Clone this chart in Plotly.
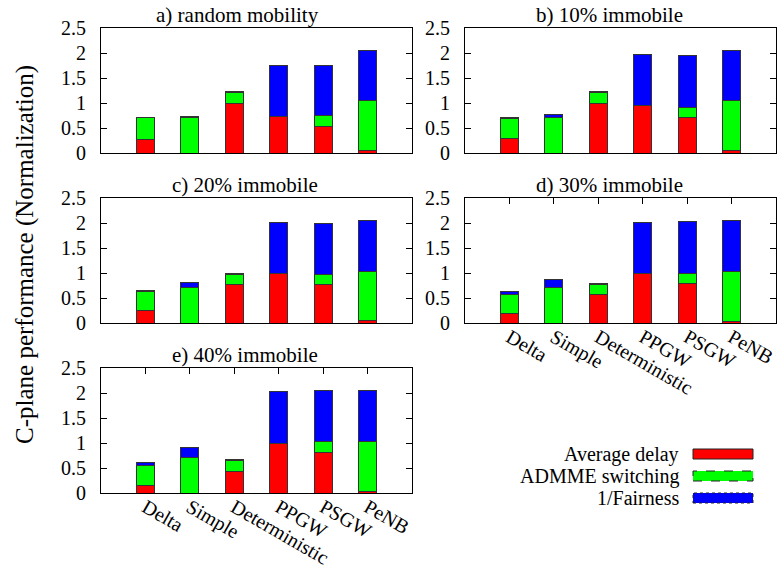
import plotly.graph_objects as go

# Scheme names (x categories)
schemes = ["Delta", "Simple", "Deterministic", "PPGW", "PSGW", "PeNB"]

# Panel titles
panel_titles = ["a) random mobility", "b) 10% immobile", "c) 20% immobile",
                "d) 30% immobile", "e) 40% immobile"]

# Stacked components per panel (normalized)
avg_delay_a = [0.28, 0.00, 1.00, 0.73, 0.53, 0.05]
switching_a = [0.44, 0.72, 0.21, 0.00, 0.22, 1.00]
fairness_a = [0.00, 0.01, 0.02, 1.02, 1.01, 1.01]

avg_delay_b = [0.30, 0.00, 1.00, 0.95, 0.71, 0.05]
switching_b = [0.40, 0.71, 0.21, 0.00, 0.21, 1.00]
fairness_b = [0.02, 0.06, 0.02, 1.02, 1.03, 1.01]

avg_delay_c = [0.25, 0.00, 0.78, 1.00, 0.77, 0.05]
switching_c = [0.39, 0.71, 0.20, 0.00, 0.20, 0.99]
fairness_c = [0.01, 0.10, 0.02, 1.01, 1.02, 1.02]

avg_delay_d = [0.19, 0.00, 0.57, 1.00, 0.79, 0.03]
switching_d = [0.39, 0.71, 0.20, 0.00, 0.21, 1.00]
fairness_d = [0.05, 0.16, 0.02, 1.01, 1.03, 1.02]

avg_delay_e = [0.16, 0.00, 0.44, 1.00, 0.81, 0.03]
switching_e = [0.39, 0.71, 0.21, 0.00, 0.22, 1.00]
fairness_e = [0.06, 0.20, 0.02, 1.03, 1.02, 1.02]

series_names = ["Average delay", "ADMME switching", "1/Fairness"]
y_ticks = [0, 0.5, 1, 1.5, 2, 2.5]
y_tick_text = ["0", "0.5", "1", "1.5", "2", "2.5"]

panels = [
    (avg_delay_a, switching_a, fairness_a),
    (avg_delay_b, switching_b, fairness_b),
    (avg_delay_c, switching_c, fairness_c),
    (avg_delay_d, switching_d, fairness_d),
    (avg_delay_e, switching_e, fairness_e),
]

W, H = 777, 577
FONT = '"Liberation Serif", "Times New Roman", Times, serif'
colors = ["#ff0000", "#00ff00", "#0000ff"]
dashes = ["solid", "dash", "dot"]


def px_x(p):
    return p / W


def px_y(p):
    return 1 - p / H


# plot-area boxes in pixels: (left, right, top, bottom)
col_x = [(101, 412), (465, 776)]
row_y = [(28, 153), (198, 323), (368, 493)]
cells = [(0, 0), (0, 1), (1, 0), (1, 1), (2, 0)]
title_cx = [237, 609, 245, 609, 245]

fig = go.Figure()
layout = dict(
    width=W, height=H, autosize=False,
    margin=dict(l=0, r=0, t=0, b=0, pad=0, autoexpand=False),
    paper_bgcolor="white", plot_bgcolor="white",
    barmode="stack", bargap=0.6,
    showlegend=False,
    font=dict(family=FONT, size=20, color="black"),
)

annotations = []
shapes = []

for k, ((row, col), comps) in enumerate(zip(cells, panels)):
    sfx = "" if k == 0 else str(k + 1)
    for comp, name, c in zip(comps, series_names, colors):
        fig.add_trace(go.Bar(
            x=schemes, y=comp, name=name, width=0.4,
            marker=dict(color=c, line=dict(color="#333333", width=1)),
            xaxis="x" + sfx, yaxis="y" + sfx,
        ))
    x0, x1 = col_x[col]
    y0, y1 = row_y[row]
    show_x = row == 2 or (row == 1 and col == 1)
    layout["xaxis" + sfx] = dict(
        domain=[px_x(x0), px_x(x1)], anchor="y" + sfx, automargin=False,
        type="category", range=[-1, 6],
        showline=True, linecolor="black", linewidth=1, mirror="ticks" if show_x else True,
        ticks="inside" if show_x else "", ticklen=6, tickcolor="black",
        showticklabels=show_x, tickangle=30, ticklabelstandoff=-6,
        tickfont=dict(family=FONT, size=20),
        showgrid=False, zeroline=False, layer="below traces",
    )
    layout["yaxis" + sfx] = dict(
        domain=[px_y(y1), px_y(y0)], anchor="x" + sfx, automargin=False,
        range=[0, 2.5], tickvals=y_ticks, ticktext=y_tick_text,
        showline=True, linecolor="black", linewidth=1, mirror="ticks",
        ticks="inside", ticklen=6, tickcolor="black",
        ticklabelstandoff=10,
        tickfont=dict(family=FONT, size=20),
        showgrid=False, zeroline=False,
    )
    annotations.append(dict(
        text=panel_titles[k], x=px_x(title_cx[k]), y=px_y(y0 - 13),
        xref="paper", yref="paper", xanchor="center", yanchor="middle",
        showarrow=False, font=dict(family=FONT, size=21),
    ))

# shared y label
annotations.append(dict(
    text="C-plane performance (Normalization)", textangle=-90,
    x=px_x(25), y=px_y(255), xref="paper", yref="paper",
    xanchor="center", yanchor="middle", showarrow=False,
    font=dict(family=FONT, size=25),
))

# legend: text on the left, swatch on the right
legend_rows = [454, 476, 498]
for name, c, d, ly in zip(series_names, colors, dashes, legend_rows):
    annotations.append(dict(
        text=name, x=px_x(681), y=px_y(ly), xref="paper", yref="paper",
        xanchor="right", yanchor="middle", showarrow=False,
        font=dict(family=FONT, size=20),
    ))
    shapes.append(dict(
        type="rect", xref="paper", yref="paper",
        x0=px_x(693), x1=px_x(753), y0=px_y(ly + 5), y1=px_y(ly - 5),
        fillcolor=c, line=dict(color="#222222", width=1, dash=d),
    ))

layout["annotations"] = annotations
layout["shapes"] = shapes
fig.update_layout(**layout)
fig.write_html("out.html")
